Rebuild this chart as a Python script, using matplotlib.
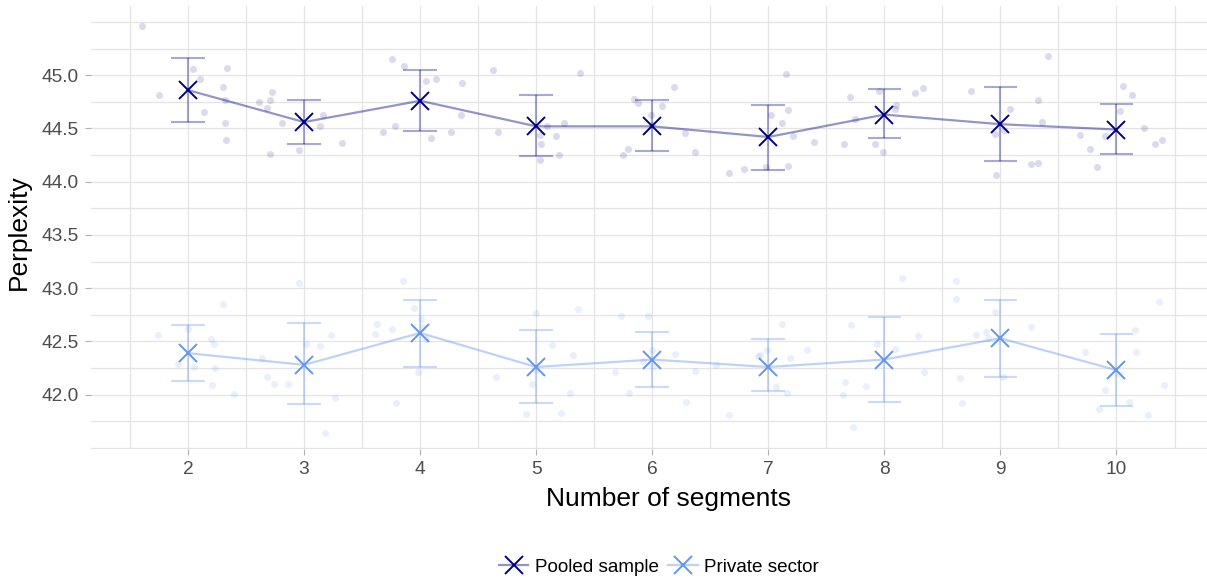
import numpy as np
import matplotlib.pyplot as plt
from matplotlib.lines import Line2D
from matplotlib.colors import to_rgba
from matplotlib.ticker import MultipleLocator

plt.rcParams['font.family'] = ['Liberation Sans', 'DejaVu Sans']

segments = np.array([2, 3, 4, 5, 6, 7, 8, 9, 10])

# mean perplexity and interval ends per number of segments
pooled_mean = [44.86, 44.56, 44.76, 44.52, 44.52, 44.42, 44.63, 44.54, 44.49]
pooled_lo = [44.56, 44.35, 44.48, 44.24, 44.29, 44.11, 44.41, 44.19, 44.26]
pooled_hi = [45.16, 44.77, 45.05, 44.81, 44.77, 44.72, 44.87, 44.89, 44.73]

private_mean = [42.39, 42.28, 42.58, 42.26, 42.33, 42.26, 42.33, 42.53, 42.23]
private_lo = [42.13, 41.91, 42.26, 41.92, 42.07, 42.03, 41.93, 42.17, 41.89]
private_hi = [42.65, 42.67, 42.89, 42.61, 42.59, 42.52, 42.73, 42.89, 42.57]

# individual runs (one row per number of segments) and their horizontal jitter
pooled_runs = [
    [45.46, 45.06, 44.96, 45.07, 44.81, 44.89, 44.77, 44.65, 44.55, 44.39],
    [44.75, 44.84, 44.77, 44.69, 44.55, 44.26, 44.30, 44.63, 44.52, 44.36],
    [45.15, 45.09, 44.95, 44.96, 44.93, 44.63, 44.47, 44.52, 44.41, 44.47],
    [45.05, 45.02, 44.47, 44.52, 44.55, 44.44, 44.35, 44.43, 44.25, 44.20],
    [44.78, 44.74, 44.89, 44.71, 44.63, 44.46, 44.28, 44.31, 44.25, 44.53],
    [45.01, 44.63, 44.67, 44.55, 44.43, 44.37, 44.08, 44.12, 44.14, 44.15],
    [44.35, 44.80, 44.59, 44.35, 44.85, 44.83, 44.88, 44.72, 44.68, 44.28],
    [44.85, 45.18, 44.77, 44.68, 44.56, 44.45, 44.49, 44.17, 44.18, 44.06],
    [44.90, 44.81, 44.66, 44.50, 44.44, 44.43, 44.31, 44.14, 44.35, 44.39],
]
pooled_jitter = [
    [-0.40, 0.04, 0.10, 0.34, -0.25, 0.30, 0.32, 0.14, 0.32, 0.33],
    [-0.39, -0.28, -0.29, -0.32, -0.19, -0.29, -0.04, 0.16, 0.14, 0.33],
    [-0.24, -0.14, 0.05, 0.14, 0.36, 0.35, -0.32, -0.22, 0.09, 0.27],
    [-0.37, 0.38, -0.33, 0.09, 0.24, 0.03, 0.04, 0.17, 0.20, 0.03],
    [-0.16, -0.12, 0.19, 0.08, -0.01, 0.28, 0.37, -0.21, -0.25, 0.00],
    [0.15, 0.02, 0.17, 0.12, 0.21, 0.39, -0.34, -0.21, -0.02, 0.17],
    [-0.35, -0.30, -0.25, -0.08, -0.05, 0.26, 0.33, 0.10, 0.09, -0.01],
    [-0.25, 0.41, 0.32, 0.08, 0.36, -0.05, 0.03, 0.26, 0.32, -0.04],
    [0.06, 0.13, 0.03, 0.24, -0.31, -0.10, -0.23, -0.17, 0.33, 0.39],
]

private_runs = [
    [42.56, 42.62, 42.85, 42.52, 42.48, 42.29, 42.26, 42.25, 42.09, 42.01],
    [43.05, 42.34, 42.48, 42.46, 42.56, 42.17, 42.10, 42.10, 41.97, 41.64],
    [43.07, 42.81, 42.71, 42.66, 42.62, 42.57, 42.64, 42.21, 41.92, 42.52],
    [42.17, 42.77, 42.80, 42.47, 42.37, 42.10, 42.02, 41.82, 41.83, 42.23],
    [42.21, 42.74, 42.74, 42.42, 42.32, 42.38, 42.22, 42.02, 41.93, 42.27],
    [42.28, 42.66, 42.37, 42.36, 42.42, 42.34, 42.42, 42.07, 42.02, 41.81],
    [42.65, 42.12, 42.00, 42.08, 41.70, 42.48, 42.43, 42.55, 42.21, 43.10],
    [43.07, 42.90, 42.78, 42.56, 42.59, 42.64, 42.16, 41.92, 42.17, 42.53],
    [42.87, 42.61, 42.40, 42.40, 42.09, 42.04, 41.93, 41.87, 41.81, 42.19],
]
private_jitter = [
    [-0.26, 0.00, 0.30, 0.20, 0.22, -0.09, 0.05, 0.23, 0.21, 0.40],
    [-0.04, -0.36, 0.02, 0.14, 0.23, -0.32, -0.26, -0.14, 0.27, 0.18],
    [-0.15, -0.05, 0.01, -0.37, -0.24, -0.39, 0.02, -0.02, -0.21, 0.05],
    [-0.35, 0.00, 0.36, 0.14, 0.32, -0.04, 0.29, -0.09, 0.21, 0.00],
    [-0.32, -0.27, -0.04, 0.00, -0.08, 0.20, 0.37, -0.20, 0.29, 0.01],
    [-0.45, 0.12, -0.07, -0.09, -0.01, 0.19, 0.33, 0.07, 0.16, -0.34],
    [-0.29, -0.34, -0.36, -0.16, -0.27, -0.06, 0.09, 0.29, 0.34, 0.15],
    [-0.38, -0.38, -0.05, -0.21, -0.12, 0.26, -0.35, -0.33, 0.02, -0.11],
    [0.37, 0.16, 0.17, -0.27, 0.41, -0.10, 0.11, -0.15, 0.27, 0.02],
]

series = [
    ("Pooled sample", "#000080", pooled_mean, pooled_lo, pooled_hi, pooled_runs, pooled_jitter),
    ("Private sector", "#6495ED", private_mean, private_lo, private_hi, private_runs, private_jitter),
]

cap = 0.145  # half width of the error bar caps, in segments

fig = plt.figure(figsize=(12.07, 5.78), dpi=100)
ax = fig.add_axes([91 / 1207, 1 - 449 / 578, 1 - 91 / 1207, 443 / 578])

handles = []
for name, col, mean, lo, hi, runs, jit in series:
    mean = np.array(mean)
    runs = np.array(runs)
    faint = to_rgba(col, 0.42)
    bar = to_rgba(col, 0.34)
    xs = segments[:, None] + np.array(jit)
    ax.scatter(xs.ravel(), runs.ravel(), s=26, color=to_rgba(col, 0.14),
               linewidths=0, zorder=2)
    ax.vlines(segments, lo, hi, color=bar, lw=1.5, zorder=3)
    ax.hlines(lo, segments - cap, segments + cap, color=bar, lw=1.5, zorder=3)
    ax.hlines(hi, segments - cap, segments + cap, color=bar, lw=1.5, zorder=3)
    ax.plot(segments, mean, color=faint, lw=1.6, zorder=3)
    ax.plot(segments, mean, 'x', color=col, ms=13, mew=1.4, zorder=4)
    handles.append((Line2D([], [], color=faint, lw=1.6),
                    Line2D([], [], ls='none', marker='x', color=col, ms=13, mew=1.4)))

ax.set_xlim(1.164, 10.78)
ax.set_ylim(41.49, 45.65)
ax.set_xticks(segments)
ax.xaxis.set_minor_locator(MultipleLocator(0.5))
ax.set_yticks([42.0, 42.5, 43.0, 43.5, 44.0, 44.5, 45.0])
ax.set_yticks(np.arange(41.5, 45.75, 0.25), minor=True)
ax.set_yticklabels(["42.0", "42.5", "43.0", "43.5", "44.0", "44.5", "45.0"])

ax.grid(True, which='both', color='#e4e4e4', lw=0.9)
ax.set_axisbelow(True)
for s in ax.spines.values():
    s.set_visible(False)
ax.tick_params(which='major', length=4, width=0.8, color='#b0b0b0',
               labelsize=13.8, labelcolor='#4d4d4d', pad=5)
ax.tick_params(which='minor', length=0)

ax.set_xlabel("Number of segments", fontsize=19, color='black')
ax.set_ylabel("Perplexity", fontsize=19, color='black')
ax.xaxis.set_label_coords((668 - 91) / 1116, -0.085)
ax.yaxis.set_label_coords((31 - 91) / 1116, 0.49)

fig.legend(handles, [s[0] for s in series], loc='center',
           bbox_to_anchor=(659 / 1207, 1 - 567 / 578), ncol=2, frameon=False,
           fontsize=13.6, handlelength=1.55, handletextpad=0.35,
           columnspacing=0.5)

fig.savefig("out.png", dpi=100)
